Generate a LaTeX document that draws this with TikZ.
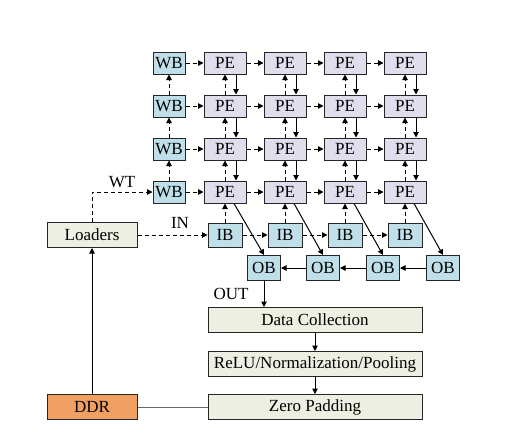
\documentclass[tikz,border=0pt]{standalone}
\usepackage{fontspec}
\setmainfont{Liberation Serif}
\usetikzlibrary{arrows.meta}
\definecolor{bluef}{HTML}{BFE0E9}
\definecolor{pef}{HTML}{E2DDEC}
\definecolor{grf}{HTML}{ECEFE2}
\definecolor{ddrf}{HTML}{F0A062}
\begin{document}
\begin{tikzpicture}[x=1pt,y=-1pt,
  blk/.style={draw=black!85, line width=1pt, inner sep=0pt, font=\fontsize{17}{19}\selectfont},
  bb/.style={blk, fill=bluef, minimum width=32pt, minimum height=22pt},
  ib/.style={blk, fill=bluef, minimum width=34pt, minimum height=24pt},
  pe/.style={blk, fill=pef, minimum width=42pt, minimum height=22pt},
  wide/.style={blk, fill=grf, minimum width=214pt, minimum height=25pt},
  ld/.style={blk, fill=grf, minimum width=90pt, minimum height=25pt},
  lbl/.style={font=\fontsize{17}{19}\selectfont, inner sep=0pt},
  da/.style={line width=1pt, dash pattern=on 4pt off 3pt, -{Triangle[length=5.5pt,width=5.5pt]}},
  sa/.style={line width=1pt, -{Triangle[length=5.5pt,width=5.5pt]}}
]
\useasboundingbox (0,0) rectangle (526,445);
% WB column
\foreach \r/\y in {1/63,2/106,3/149,4/192} {
  \node[bb] (wb\r) at (169,\y) {WB};
}
% PE grid
\foreach \r/\y in {1/63,2/106,3/149,4/192} {
  \foreach \c/\x in {1/225,2/285,3/345,4/405} {
    \node[pe] (p\r\c) at (\x,\y) {PE};
  }
}
% IB row
\foreach \c/\x in {1/225,2/285,3/345,4/405} {
  \node[ib] (ib\c) at (\x,235) {IB};
}
% OB row
\foreach \c/\x in {1/264,2/323,3/383,4/443} {
  \node[ib, minimum width=33pt, minimum height=25pt] (ob\c) at (\x,268) {OB};
}
\node[ld] (ld) at (92,235) {Loaders};
\node[ld, fill=ddrf] (ddr) at (92,407) {DDR};
\node[wide] (dc) at (315,320) {Data Collection};
\node[wide] (relu) at (315,364) {ReLU/Normalization/Pooling};
\node[wide] (zp) at (315,407) {Zero Padding};
\node[lbl] (wt) at (122,182) {WT};
\node[lbl] (in) at (180,223) {IN};
\node[lbl] (out) at (231,294) {OUT};

% WB vertical dashed up
\draw[da] (wb4.north) -- (wb3.south);
\draw[da] (wb3.north) -- (wb2.south);
\draw[da] (wb2.north) -- (wb1.south);
% horizontal dashed in rows
\foreach \r in {1,2,3,4} {
  \draw[da] (wb\r.east) -- (p\r1.west);
  \draw[da] (p\r1.east) -- (p\r2.west);
  \draw[da] (p\r2.east) -- (p\r3.west);
  \draw[da] (p\r3.east) -- (p\r4.west);
}
% vertical in PE columns
\foreach \c in {1,2,3,4} {
  \draw[da] (ib\c.north) -- (p4\c.south);
  \draw[da] (p4\c.north) -- (p3\c.south);
  \draw[da] (p3\c.north) -- (p2\c.south);
  \draw[da] (p2\c.north) -- (p1\c.south);
  \draw[sa] ([xshift=11pt]p1\c.south) -- ([xshift=11pt]p2\c.north);
  \draw[sa] ([xshift=11pt]p2\c.south) -- ([xshift=11pt]p3\c.north);
  \draw[sa] ([xshift=11pt]p3\c.south) -- ([xshift=11pt]p4\c.north);
  \draw[sa] ([xshift=9pt]p4\c.south) -- (ob\c.north);
}
% IB chain
\draw[da] (ib1.east) -- (ib2.west);
\draw[da] (ib2.east) -- (ib3.west);
\draw[da] (ib3.east) -- (ib4.west);
% OB chain
\draw[sa] (ob4.west) -- (ob3.east);
\draw[sa] (ob3.west) -- (ob2.east);
\draw[sa] (ob2.west) -- (ob1.east);
\draw[sa] (ob1.south) -- (ob1.south |- dc.north);
\draw[sa] (dc.south) -- (relu.north);
\draw[sa] (relu.south) -- (zp.north);
% DDR links
\draw[line width=1pt, black!60] (ddr.east) -- (zp.west);
\draw[sa] (ddr.north) -- (ld.south);
\draw[da] (ld.north) |- (wb4.west);
\draw[da] (ld.east) -- (ib1.west);
\end{tikzpicture}
\end{document}
